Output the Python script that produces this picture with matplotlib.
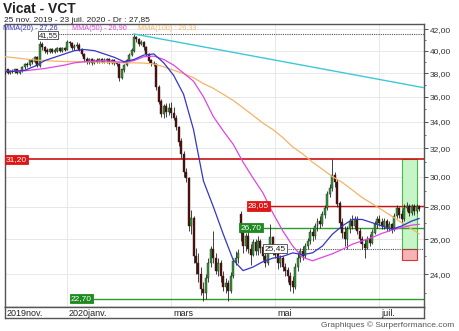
"""
    Vicat - VCT, graphique en chandeliers (échelle log)
"""
import matplotlib
matplotlib.use("Agg")
from matplotlib import pyplot as plt
from matplotlib.patches import Rectangle
from matplotlib.ticker import FixedLocator, FixedFormatter, NullFormatter

plt.rcParams['font.family'] = ['Liberation Sans', 'DejaVu Sans']

# cours journaliers du 25/11/2019 au 23/07/2020 (168 séances)
opens = [38.1, 38.3, 38.0, 38.2, 38.1, 38.3, 38.0, 38.2, 38.5, 38.8,
         38.7, 39.1, 39.0, 39.4, 38.6, 40.6, 40.3, 40.0, 39.9, 40.1,
         39.9, 40.0, 40.2, 40.0, 40.2, 40.1, 40.8, 40.7, 40.2, 40.4,
         40.5, 40.1, 39.7, 39.2, 39.0, 39.2, 38.9, 39.1, 39.0, 39.2,
         39.0, 39.1, 39.2, 38.9, 39.1, 38.9, 38.8, 37.6, 38.3, 38.7,
         39.1, 39.6, 40.0, 41.2, 41.1, 40.6, 40.8, 40.3, 39.7, 39.1,
         38.9, 38.8, 36.8, 35.6, 34.6, 35.2, 34.8, 35.1, 34.7, 34.3,
         33.6, 32.5, 31.6, 30.3, 29.9, 26.8, 27.3, 25.0, 24.6, 24.0,
         23.2, 23.0, 23.8, 24.6, 25.4, 24.9, 24.2, 24.6, 23.9, 23.3,
         23.5, 23.1, 23.9, 24.7, 24.9, 27.5, 26.4, 25.6, 26.2, 25.4,
         25.1, 25.8, 25.3, 25.9, 25.5, 25.0, 24.6, 25.4, 26.1, 25.3,
         25.1, 24.6, 24.9, 24.4, 24.2, 23.9, 23.6, 23.3, 24.4, 24.9,
         25.3, 25.0, 25.6, 25.9, 26.4, 26.2, 26.8, 27.1, 26.9, 27.5,
         27.9, 28.8, 29.2, 30.1, 29.6, 28.2, 27.0, 26.4, 26.0, 26.6,
         27.1, 26.8, 27.2, 26.5, 26.0, 25.7, 25.5, 26.0, 25.8, 26.4,
         26.9, 27.2, 27.0, 26.8, 27.1, 26.7, 26.9, 26.6, 27.4, 27.9,
         27.5, 27.2, 27.9, 28.0, 27.6, 28.0, 27.7, 28.0]
highs = [38.4, 38.4, 38.3, 38.4, 38.4, 38.4, 38.3, 38.6, 38.9, 39.0,
         39.2, 39.3, 39.5, 39.5, 40.9, 40.8, 40.4, 40.2, 40.2, 40.2,
         40.2, 40.3, 40.3, 40.3, 40.3, 41.0, 40.9, 40.8, 40.6, 40.8,
         40.7, 40.2, 39.8, 39.4, 39.3, 39.3, 39.2, 39.3, 39.3, 39.3,
         39.3, 39.3, 39.3, 39.2, 39.2, 39.0, 38.9, 38.4, 38.8, 39.2,
         39.8, 40.2, 41.55, 41.4, 41.2, 41.0, 40.9, 40.4, 39.8, 39.2,
         39.1, 38.9, 37.0, 35.8, 35.4, 35.5, 35.5, 35.6, 35.2, 34.5,
         33.7, 32.8, 31.8, 30.6, 30.0, 27.8, 27.4, 25.5, 25.2, 24.4,
         23.6, 24.0, 24.9, 25.6, 26.5, 25.2, 24.9, 24.8, 24.2, 23.8,
         23.7, 24.1, 24.9, 25.3, 25.4, 27.7, 26.6, 26.4, 26.9, 25.7,
         26.0, 26.0, 26.2, 26.0, 25.7, 25.2, 25.6, 26.9, 26.2, 25.6,
         25.3, 25.1, 25.0, 24.6, 24.4, 24.1, 23.9, 24.6, 25.2, 25.5,
         25.6, 25.8, 26.1, 26.6, 26.7, 27.0, 27.3, 27.4, 27.7, 28.1,
         29.0, 29.5, 31.2, 30.3, 29.8, 28.4, 27.3, 26.8, 26.8, 27.3,
         27.5, 27.4, 27.4, 26.7, 26.2, 26.0, 26.2, 26.3, 26.6, 27.1,
         27.4, 27.5, 27.3, 27.3, 27.2, 27.1, 27.0, 27.6, 28.1, 28.0,
         27.8, 28.2, 28.3, 28.2, 28.2, 28.2, 28.2, 28.1]
lows = [37.9, 37.9, 37.9, 38.0, 38.0, 37.9, 37.9, 38.1, 38.4, 38.5,
        38.6, 38.8, 38.9, 38.5, 38.5, 40.1, 39.8, 39.7, 39.8, 39.8,
        39.8, 39.9, 39.9, 39.9, 40.0, 40.1, 40.4, 40.1, 40.1, 40.2,
        40.0, 39.5, 39.0, 38.8, 38.8, 38.7, 38.8, 38.9, 38.9, 38.9,
        38.9, 38.9, 38.8, 38.8, 38.7, 38.6, 37.3, 37.5, 38.1, 38.6,
        39.0, 39.5, 39.9, 40.8, 40.4, 40.5, 40.1, 39.5, 38.9, 38.6,
        38.6, 36.6, 35.4, 34.4, 34.3, 34.4, 34.5, 34.3, 34.1, 33.4,
        32.2, 31.3, 30.0, 29.6, 26.5, 26.3, 24.6, 24.0, 23.6, 22.9,
        22.6, 22.7, 23.6, 24.4, 24.6, 24.0, 23.9, 23.6, 23.1, 23.0,
        22.6, 23.0, 23.8, 24.5, 24.6, 25.9, 25.2, 25.3, 25.2, 24.5,
        25.0, 25.1, 25.1, 25.2, 24.8, 24.4, 24.5, 25.3, 25.1, 24.9,
        24.3, 24.4, 24.2, 23.9, 23.6, 23.1, 23.0, 23.2, 24.2, 24.7,
        24.8, 24.9, 25.4, 25.7, 25.9, 26.0, 26.5, 26.7, 26.8, 27.3,
        27.8, 28.6, 29.0, 29.3, 28.0, 26.7, 26.1, 25.6, 25.4, 26.4,
        26.6, 26.6, 26.3, 25.8, 25.4, 24.9, 25.4, 25.6, 25.7, 26.3,
        26.7, 26.8, 26.6, 26.6, 26.5, 26.5, 26.4, 26.5, 27.3, 27.3,
        27.0, 27.1, 27.7, 27.4, 27.5, 27.5, 27.6, 27.7]
closes = [38.3, 38.0, 38.2, 38.1, 38.3, 38.0, 38.2, 38.5, 38.8, 38.7,
          39.1, 39.0, 39.4, 38.6, 40.6, 40.3, 40.0, 39.9, 40.1, 39.9,
          40.0, 40.2, 40.0, 40.2, 40.1, 40.8, 40.7, 40.2, 40.4, 40.5,
          40.1, 39.7, 39.2, 39.0, 39.2, 38.9, 39.1, 39.0, 39.2, 39.0,
          39.1, 39.2, 38.9, 39.1, 38.9, 38.8, 37.6, 38.3, 38.7, 39.1,
          39.6, 40.0, 41.2, 41.1, 40.6, 40.8, 40.3, 39.7, 39.1, 38.9,
          38.8, 36.8, 35.6, 34.6, 35.2, 34.8, 35.1, 34.7, 34.3, 33.6,
          32.5, 31.6, 30.3, 29.9, 26.8, 27.3, 25.0, 24.6, 24.0, 23.2,
          23.0, 23.8, 24.6, 25.4, 24.9, 24.2, 24.6, 23.9, 23.3, 23.5,
          23.1, 23.9, 24.7, 24.9, 25.2, 26.4, 25.6, 26.2, 25.4, 25.1,
          25.8, 25.3, 25.9, 25.5, 25.0, 24.6, 25.4, 26.1, 25.3, 25.1,
          24.6, 24.9, 24.4, 24.2, 23.9, 23.4, 23.3, 24.4, 24.9, 25.3,
          25.0, 25.6, 25.9, 26.4, 26.2, 26.8, 27.1, 26.9, 27.5, 27.9,
          28.8, 29.2, 30.1, 29.6, 28.2, 27.0, 26.4, 26.0, 26.6, 27.1,
          26.8, 27.2, 26.5, 26.0, 25.7, 25.5, 26.0, 25.8, 26.4, 26.9,
          27.2, 27.0, 26.8, 27.1, 26.7, 26.9, 26.6, 27.4, 27.9, 27.5,
          27.2, 27.9, 28.0, 27.6, 28.0, 27.7, 28.0, 27.85]

# moyennes mobiles (une valeur toutes les 4 séances)
ma_days = list(range(0, 165, 4)) + [167]
mma20 = [38.15, 38.15, 38.25, 38.6, 39.1, 39.4, 39.7, 40.0, 40.1, 40.0,
         39.7, 39.4, 39.0, 39.2, 39.6, 39.7, 38.9, 37.8, 36.2, 33.4,
         29.7, 28.0, 26.3, 24.8, 24.2, 24.4, 24.7, 24.9, 25.0, 25.2,
         25.1, 25.2, 25.6, 26.3, 26.8, 27.2, 27.2, 27.0, 26.8, 26.6,
         26.8, 27.1, 27.26]
mma50 = [38.15, 38.15, 38.2, 38.3, 38.4, 38.55, 38.7, 38.9, 39.0, 39.05,
         39.1, 39.0, 38.95, 39.1, 39.45, 39.5, 39.2, 38.7, 38.0, 37.3,
         36.0, 34.4, 33.3, 32.3, 31.0, 29.9, 28.9, 27.6, 26.5, 25.6,
         24.95, 24.75, 24.95, 25.15, 25.4, 25.7, 25.9, 26.1, 26.35, 26.55,
         26.7, 26.85, 26.9]
mma100 = [39.45, 39.35, 39.25, 39.15, 39.1, 39.05, 39.02, 39.0, 39.0, 38.98,
          38.95, 38.93, 38.9, 38.9, 38.88, 38.8, 38.55, 38.25, 37.95, 37.6,
          37.1, 36.7, 36.2, 35.7, 35.1, 34.5, 33.9, 33.4, 32.8, 32.1,
          31.6, 31.0, 30.5, 30.0, 29.6, 29.1, 28.6, 28.2, 27.8, 27.4,
          27.0, 26.6, 26.33]

# oblique baissière depuis le plus haut
trend_days = [52, 169]
trend_vals = [41.55, 36.75]

# repères des mois (première séance du mois)
month_pos = [0, 25, 67, 109, 151]
month_labels = ["2019nov.", "2020janv.", "mars", "mai", "juil."]

y_ticks = [24, 26, 28, 30, 32, 34, 36, 38, 40, 42]
y_minor = [23, 25, 27, 29, 31, 33, 35, 37, 39, 41]

fig = plt.figure(figsize=(4.6, 3.31), dpi=100)
ax = fig.add_axes([0.011, 0.0725, 0.911, 0.855])
ax.set_yscale("log")
ax.set_xlim(0, 169)
ax.set_ylim(22.27, 42.51)

# grille
for p in month_pos[1:]:
    ax.axvline(p, color="#e8e8e8", lw=0.7, zorder=0)
for v in y_ticks:
    ax.axhline(v, color="#e8e8e8", lw=0.7, zorder=0)

# zones de la fin de période
ax.add_patch(Rectangle((160, 25.45), 6, 31.2 - 25.45, facecolor="#c8f5c8",
                       edgecolor="#44bb44", lw=0.8, zorder=1))
ax.add_patch(Rectangle((160, 24.8), 6, 25.45 - 24.8, facecolor="#f6b4b4",
                       edgecolor="#dd3333", lw=0.8, zorder=1))

# chandeliers
days = range(len(closes))
ax.vlines(days, lows, highs, color="#222222", lw=0.6, zorder=3)
for d in days:
    o, c = opens[d], closes[d]
    col = "#2f9a2f" if c >= o else "#5a0a0a"
    ax.bar(d, abs(c - o) + 0.02, bottom=min(o, c), width=0.8, color=col,
           edgecolor="#222222", lw=0.3, zorder=4)

# moyennes mobiles
ax.plot(ma_days, mma100, color="#f5b365", lw=0.9, zorder=5)
ax.plot(ma_days, mma50, color="#e045e0", lw=0.9, zorder=5)
ax.plot(ma_days, mma20, color="#3535c8", lw=0.9, zorder=5)
ax.plot(trend_days, trend_vals, color="#3cc8d8", lw=1.0, zorder=5)

# niveaux
box = dict(boxstyle="square,pad=0.15", lw=0.6)
ax.axhline(31.2, color="#cc1111", lw=1.2, zorder=2)
ax.text(0.4, 31.2, "31,20", fontsize=6, color="white", va="center", ha="left",
        bbox=dict(box, facecolor="#e01515", edgecolor="#e01515"), zorder=6)

ax.hlines(41.55, 21.5, 169, color="#555555", lw=0.8, linestyles=(0, (1, 1)), zorder=2)
ax.text(13.5, 41.45, "41,55", fontsize=5.5, color="#222222", va="center", ha="left",
        bbox=dict(boxstyle="square,pad=0.1", lw=0.6, facecolor="white", edgecolor="#444444"),
        zorder=6)

ax.hlines(28.05, 98, 169, color="#cc1111", lw=1.0, zorder=2)
ax.text(98.0, 28.05, "28,05", fontsize=6, color="white", va="center", ha="left",
        bbox=dict(box, facecolor="#e01515", edgecolor="#e01515"), zorder=6)

ax.hlines(26.7, 95, 169, color="#2e9a2e", lw=1.0, zorder=2)
ax.text(95.0, 26.7, "26,70", fontsize=6, color="white", va="center", ha="left",
        bbox=dict(box, facecolor="#1f8a1f", edgecolor="#1f8a1f"), zorder=6)

ax.hlines(25.45, 114, 169, color="#555555", lw=0.8, linestyles=(0, (1, 1)), zorder=2)
ax.text(104.5, 25.45, "25,45", fontsize=6, color="#222222", va="center", ha="left",
        bbox=dict(box, facecolor="white", edgecolor="#444444"), zorder=6)

ax.hlines(22.7, 26, 169, color="#2e9a2e", lw=1.0, zorder=2)
ax.text(26.5, 22.7, "22,70", fontsize=6, color="white", va="center", ha="left",
        bbox=dict(box, facecolor="#1f8a1f", edgecolor="#1f8a1f"), zorder=6)

# axe des prix à droite
ax.yaxis.tick_right()
ax.yaxis.set_major_locator(FixedLocator(y_ticks))
ax.yaxis.set_major_formatter(FixedFormatter(["{:.2f}".format(v).replace(".", ",") for v in y_ticks]))
ax.yaxis.set_minor_locator(FixedLocator(y_minor))
ax.yaxis.set_minor_formatter(NullFormatter())
ax.tick_params(axis="y", which="major", direction="out", length=3, width=0.6,
               colors="#333333", labelsize=6, pad=1)
ax.tick_params(axis="y", which="minor", direction="out", length=1.5, width=0.5, colors="#333333")
ax.set_xticks([])
for s in ax.spines.values():
    s.set_color("#555555")
    s.set_linewidth(1.0)

# bandeau des dates
band = fig.add_axes([0.011, 13 / 331, 0.911, 11 / 331])
band.set_xlim(0, 169)
band.set_ylim(0, 1)
band.set_xticks([])
band.set_yticks([])
for s in band.spines.values():
    s.set_color("#555555")
    s.set_linewidth(1.0)
for p, lab in zip(month_pos, month_labels):
    band.text(p + 0.8, 0.45, lab, fontsize=6.5, color="#222222", ha="left", va="center")

# titres et légende
fig.text(0.006, 0.995, "Vicat - VCT", fontsize=10, fontweight="bold", color="#222222", va="top")
fig.text(0.008, 0.938, "25 nov. 2019 - 23 juil. 2020 - Dr : 27,85", fontsize=6,
         color="#222222", va="center")
fig.text(0.006, 0.914, "MMA(20) - 27,26", fontsize=5.2, color="#3535c8", va="center")
fig.text(0.157, 0.914, "MMA(50) - 26,90", fontsize=5.2, color="#e045e0", va="center")
fig.text(0.300, 0.914, "MMA(100) : 26,33", fontsize=5.2, color="#f5b365", va="center")
fig.text(0.988, 0.018, "Graphiques © Surperformance.com", fontsize=6, color="#555555",
         ha="right", va="center")

plt.savefig("out.png", dpi=100)
